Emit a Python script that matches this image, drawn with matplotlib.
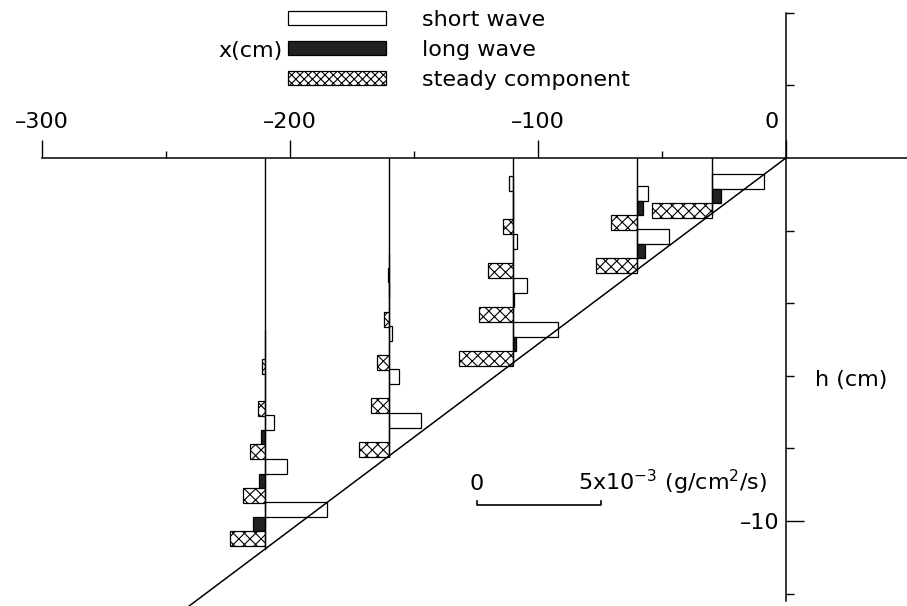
import matplotlib
matplotlib.use("Agg")
import matplotlib.pyplot as plt
import matplotlib.transforms as mtransforms
from matplotlib.patches import Patch

plt.rcParams['font.family'] = ['DejaVu Sans']
plt.rcParams['mathtext.default'] = 'regular'
plt.rcParams['hatch.linewidth'] = 0.8

# profile position x (cm) and centre depth h (cm) of each group of bars
profile_x = [-210, -210, -210, -210, -210,
             -160, -160, -160, -160, -160,
             -110, -110, -110, -110, -110,
             -60, -60,
             -30]
group_h = [-5.34, -6.50, -7.69, -8.90, -10.08,
           -3.22, -4.05, -5.23, -6.42, -7.63,
           -1.10, -1.49, -2.70, -3.91, -5.12,
           -1.38, -2.56,
           -1.05]
# sediment transport rate in 10^-3 g/cm^2/s (positive = onshore)
short_wave = [0, 0, 0.37, 0.90, 2.50,
              0, 0, 0.12, 0.40, 1.30,
              -0.16, 0, 0.16, 0.55, 1.80,
              0.45, 1.30,
              2.10]
long_wave = [0, 0, -0.15, -0.24, -0.47,
             -0.06, 0, 0, 0, 0,
             0, 0, 0, 0.05, 0.12,
             0.25, 0.30,
             0.40]
steady = [-0.12, -0.28, -0.63, -0.90, -1.40,
          0, -0.20, -0.50, -0.73, -1.20,
          0, -0.40, -1.00, -1.37, -2.20,
          -1.05, -1.65,
          -2.40]
profiles = [-210, -160, -110, -60, -30]

beach_slope = 1 / 19.5      # bed: h = x * slope
cm_per_unit = 10            # 1e-3 g/cm2/s drawn as 10 cm along x
bar_h = 0.4

fig = plt.figure(figsize=(9.07, 6.06), dpi=100)
ax = fig.add_axes([0, 0, 1, 1])
ax.set_xlim(-316.9, 48.8)
ax.set_ylim(-12.34, 4.35)

# bed and profile lines
ax.plot([0, -260], [0, -260 * beach_slope], color='black', lw=1.1)
for px in profiles:
    ax.plot([px, px], [0, px * beach_slope], color='black', lw=1.0)

# bars: short wave on top, long wave in the middle, steady below
ax.barh([h + bar_h for h in group_h], [v * cm_per_unit for v in short_wave],
        height=bar_h, left=profile_x, facecolor='white', edgecolor='black', lw=0.9)
ax.barh(group_h, [v * cm_per_unit for v in long_wave],
        height=bar_h, left=profile_x, facecolor='#222222', edgecolor='black', lw=0.9)
ax.barh([h - bar_h for h in group_h], [v * cm_per_unit for v in steady],
        height=bar_h, left=profile_x, facecolor='white', edgecolor='black',
        hatch='xxx', lw=0.9)

# axes drawn through the origin
for s in ['bottom', 'right']:
    ax.spines[s].set_visible(False)
ax.spines['top'].set_position(('data', 0))
ax.spines['top'].set_bounds(-300, 48.8)
ax.spines['left'].set_position(('data', 0))
ax.spines['left'].set_bounds(-12.2, 4.0)
ax.spines['top'].set_linewidth(1.1)
ax.spines['left'].set_linewidth(1.1)

ax.xaxis.set_ticks_position('top')
ax.set_xticks([-300, -200, -100, 0])
ax.set_xticklabels(['\u2013300', '\u2013200', '\u2013100', '0'])
ax.set_xticks([-250, -150, -50], minor=True)
ax.tick_params(axis='x', which='major', direction='out', length=13, width=1.0,
               pad=6, labelsize=16)
ax.tick_params(axis='x', which='minor', direction='out', length=5, width=1.0)
zero_lab = ax.xaxis.get_majorticklabels()[-1]
zero_lab.set_transform(zero_lab.get_transform() +
                       mtransforms.ScaledTranslation(-0.14, 0, fig.dpi_scale_trans))

ax.yaxis.set_ticks_position('left')
ax.set_yticks([-10])
ax.set_yticklabels(['\u201310'])
ax.set_yticks([4, 2, -2, -4, -6, -8, -12], minor=True)
ax.tick_params(axis='y', which='major', direction='in', length=13, width=1.0,
               pad=5, labelsize=16)
ax.tick_params(axis='y', which='minor', direction='in', length=6, width=1.0)

ax.text(-202.8, 2.95, 'x(cm)', ha='right', va='center', fontsize=16)
ax.text(11.7, -6.12, 'h (cm)', ha='left', va='center', fontsize=16)

# scale bar
x0, hs = -124.6, -9.56
x1 = x0 + 5 * cm_per_unit
ax.plot([x0, x0, x1, x1], [hs + 0.1, hs, hs, hs + 0.1], color='black', lw=1.2)
ax.text(x0, -9.15, '0', ha='center', va='baseline', fontsize=16)
ax.text(-83.9, -9.15, r'5x10$^{-3}$ (g/cm$^2$/s)', ha='left', va='baseline',
        fontsize=16)

handles = [Patch(facecolor='white', edgecolor='black', lw=0.9),
           Patch(facecolor='#222222', edgecolor='black', lw=0.9),
           Patch(facecolor='white', edgecolor='black', hatch='xxxx', lw=0.9)]
ax.legend(handles, ['short wave', 'long wave', 'steady component'],
          loc='upper left', bbox_to_anchor=(288 / 907, 1 - 10 / 606),
          frameon=False, fontsize=16, handlelength=4.4, handleheight=0.55,
          handletextpad=1.65, labelspacing=0.45, borderpad=0, borderaxespad=0)

fig.savefig('out.png', dpi=100)
